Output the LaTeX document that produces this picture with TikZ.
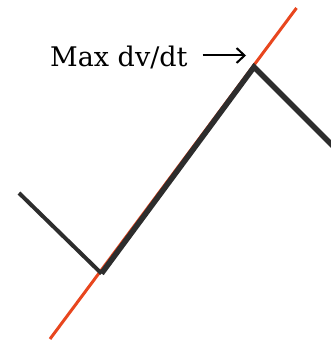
\documentclass[tikz,border=0pt]{standalone}
\usepackage{fontspec}
\setmainfont{DejaVu Serif}
\usepackage{tikz}
\usetikzlibrary{arrows.meta}

\definecolor{tracegray}{HTML}{2D2D2D}
\definecolor{slopered}{HTML}{E8461E}

\begin{document}
\begin{tikzpicture}[x=1pt,y=-1pt,
                    trace/.style={draw=tracegray, line width=4pt},
                    tangent/.style={draw=slopered, line width=3pt},
                    label/.style={anchor=base west, inner sep=0pt, font=\fontsize{27}{32}\selectfont}]
  \useasboundingbox (0,0) rectangle (330,342);

  % Points of the trace
  \coordinate (start) at (19,193);
  \coordinate (low) at (101.5,273.5);
  \coordinate (peak) at (254,67);
  \coordinate (stop) at (334,147);

  % Tangent at the steepest rise
  \coordinate (tanlow) at (50,339);
  \coordinate (tanhigh) at (296.5,8);
  \draw[tangent] (tanlow) -- (tanhigh);

  % Trace
  \draw[trace] (start) -- (low);
  \draw[trace, line width=5.5pt, line join=miter] (low) -- (peak) -- (stop);

  % Label
  \node[label] (maxlabel) at (50,66.5) {Max dv/dt};
  \coordinate (tip) at (246,55.5);
  \draw[-{Straight Barb[length=8pt,width=15pt,line width=2pt]}, line width=2pt, shorten <=15pt] (maxlabel.east |- tip) -- (tip);
\end{tikzpicture}
\end{document}
